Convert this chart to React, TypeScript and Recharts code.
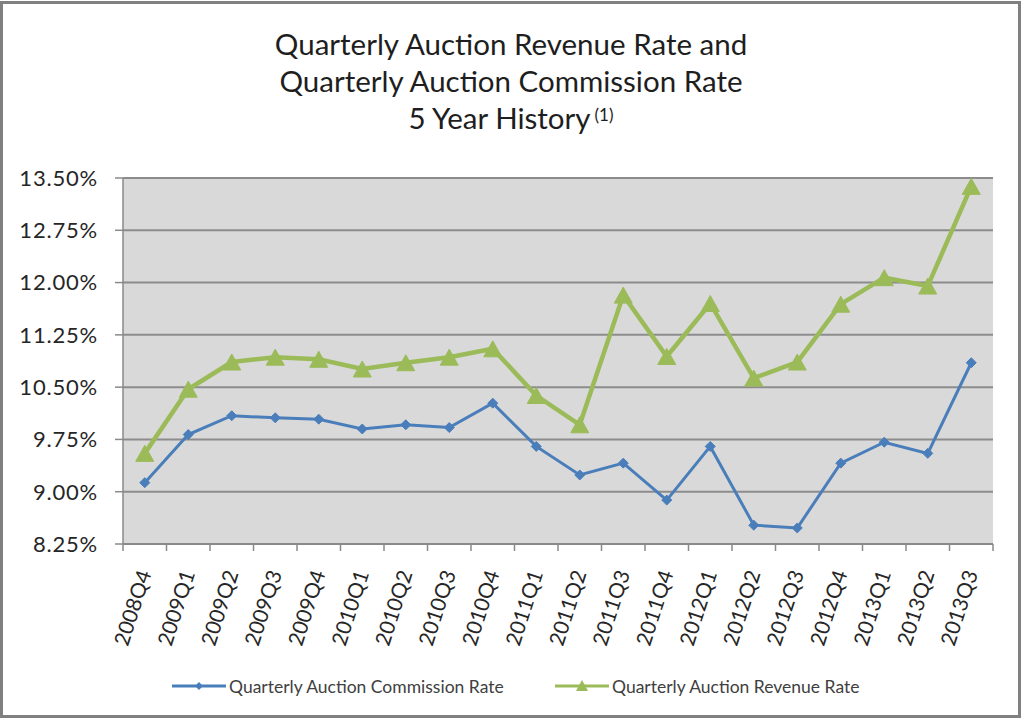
import React from 'react';
import { LineChart, Line, XAxis, YAxis, CartesianGrid, Legend } from 'recharts';

const quarters = [
  '2008Q4', '2009Q1', '2009Q2', '2009Q3', '2009Q4', '2010Q1', '2010Q2', '2010Q3', '2010Q4', '2011Q1',
  '2011Q2', '2011Q3', '2011Q4', '2012Q1', '2012Q2', '2012Q3', '2012Q4', '2013Q1', '2013Q2', '2013Q3',
];
const commissionRate = [
  9.13, 9.82, 10.09, 10.06, 10.04, 9.9, 9.96, 9.92, 10.27, 9.65,
  9.24, 9.41, 8.88, 9.65, 8.52, 8.48, 9.41, 9.71, 9.55, 10.85,
];
const revenueRate = [
  9.55, 10.47, 10.86, 10.93, 10.9, 10.76, 10.85, 10.93, 11.05, 10.38,
  9.96, 11.82, 10.94, 11.7, 10.63, 10.86, 11.69, 12.07, 11.95, 13.38,
];
const yTicks = [8.25, 9.0, 9.75, 10.5, 11.25, 12.0, 12.75, 13.5];
const titleLines = ['Quarterly Auction Revenue Rate and', 'Quarterly Auction Commission Rate', '5 Year History'];
const titleNote = '(1)';
const seriesNames = ['Quarterly Auction Commission Rate', 'Quarterly Auction Revenue Rate'];

const BLUE = '#4a7ebb';
const GREEN = '#9bbb59';
const FONT = 'Lato, "Open Sans", sans-serif';

const data = quarters.map((q, i) => ({
  idx: i,
  q,
  commission: commissionRate[i],
  revenue: revenueRate[i],
}));

const xTicks: number[] = [];
quarters.forEach((_, i) => {
  xTicks.push(i - 0.5);
  xTicks.push(i);
});
xTicks.push(quarters.length - 0.5);

const XTick = (props: any) => {
  const { x, y, payload } = props;
  const v = payload.value as number;
  if (!Number.isInteger(v)) {
    return <line x1={x} x2={x} y1={y} y2={y + 7} stroke="#8a8a8a" strokeWidth={1.5} />;
  }
  return (
    <g transform={`translate(${x},${y + 27}) rotate(-72)`}>
      <text x={0} y={0} dy="0.35em" textAnchor="end" fontSize={21} fill="#262626" fontFamily={FONT}>
        {quarters[v]}
      </text>
    </g>
  );
};

const Diamond = (props: any) => {
  const { cx, cy } = props;
  if (cx == null || cy == null) return null;
  const r = 5;
  return <path d={`M${cx},${cy - r} L${cx + r},${cy} L${cx},${cy + r} L${cx - r},${cy} Z`} fill={BLUE} stroke={BLUE} />;
};

const Triangle = (props: any) => {
  const { cx, cy } = props;
  if (cx == null || cy == null) return null;
  const w = 9;
  const h = 8;
  return <path d={`M${cx},${cy - h} L${cx + w},${cy + h} L${cx - w},${cy + h} Z`} fill={GREEN} stroke={GREEN} />;
};

const legendLefts = [172, 555];

const renderLegend = (props: any) => {
  const { payload } = props;
  return (
    <div style={{ position: 'relative', height: 20, width: 1024 }}>
      {(payload || []).map((p: any, i: number) => (
        <div
          key={p.value}
          style={{ position: 'absolute', left: legendLefts[i], top: 0, display: 'flex', alignItems: 'center', height: 20 }}
        >
          <svg width={54} height={18}>
            <line x1={0} x2={54} y1={9} y2={9} stroke={p.color} strokeWidth={3} />
            {i === 0 ? (
              <path d="M27,5 L31,9 L27,13 L23,9 Z" fill={p.color} />
            ) : (
              <path d="M27,3 L33,14 L21,14 Z" fill={p.color} />
            )}
          </svg>
          <span style={{ marginLeft: 3, fontSize: 17.5, color: '#404040', fontFamily: FONT, whiteSpace: 'nowrap' }}>
            {p.value}
          </span>
        </div>
      ))}
    </div>
  );
};

export default function App() {
  return (
    <div style={{ position: 'absolute', left: 0, top: 0, width: 1024, height: 721, background: '#fff', overflow: 'hidden' }}>
      <div
        style={{
          position: 'absolute',
          left: 0,
          top: 1,
          width: 1021,
          height: 717,
          border: '3px solid #808080',
          boxSizing: 'border-box',
        }}
      />
      <div
        style={{
          position: 'absolute',
          left: 0,
          top: 25,
          width: 1022,
          textAlign: 'center',
          fontFamily: FONT,
          fontSize: 29.5,
          lineHeight: '37px',
          color: '#1e1e1e',
        }}
      >
        <div>{titleLines[0]}</div>
        <div>{titleLines[1]}</div>
        <div>
          {titleLines[2]}
          <span style={{ fontSize: 17, verticalAlign: 'top', position: 'relative', top: -3, marginLeft: 4 }}>{titleNote}</span>
        </div>
      </div>
      <div style={{ position: 'absolute', left: 0, top: 0 }}>
        <LineChart width={1024} height={721} data={data} margin={{ top: 178, right: 31, left: 0, bottom: 47 }}>
          <CartesianGrid vertical={false} stroke="#8c8c8c" strokeWidth={2} fill="#d9d9d9" />
          <XAxis
            dataKey="idx"
            type="number"
            domain={[-0.5, quarters.length - 0.5]}
            ticks={xTicks}
            interval={0}
            tick={<XTick />}
            tickLine={false}
            tickSize={0}
            tickMargin={0}
            height={110}
            axisLine={{ stroke: '#8a8a8a', strokeWidth: 1.5 }}
          />
          <YAxis
            type="number"
            domain={[8.25, 13.5]}
            ticks={yTicks}
            interval={0}
            width={123}
            tickSize={8}
            tickMargin={17}
            tickFormatter={(v: number) => `${v.toFixed(2)}%`}
            tick={{ fontSize: 22, fill: '#262626', fontFamily: FONT, letterSpacing: 0.8 }}
            tickLine={{ stroke: '#8a8a8a', strokeWidth: 1.5 }}
            axisLine={{ stroke: '#8a8a8a', strokeWidth: 1.5 }}
          />
          <Legend content={renderLegend} wrapperStyle={{ top: 676, left: 0, width: 1024 }} />
          <Line
            type="linear"
            dataKey="commission"
            name={seriesNames[0]}
            stroke={BLUE}
            strokeWidth={3}
            dot={<Diamond />}
            activeDot={false}
            isAnimationActive={false}
          />
          <Line
            type="linear"
            dataKey="revenue"
            name={seriesNames[1]}
            stroke={GREEN}
            strokeWidth={4.5}
            dot={<Triangle />}
            activeDot={false}
            isAnimationActive={false}
          />
        </LineChart>
      </div>
    </div>
  );
}
